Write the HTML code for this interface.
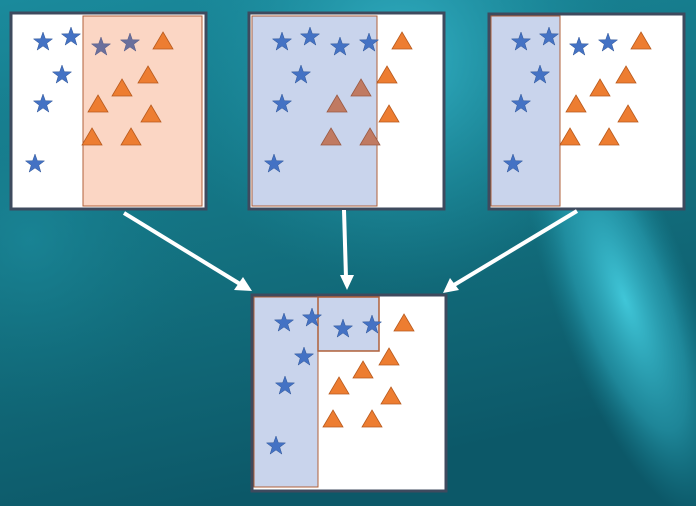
<!DOCTYPE html>
<html><head><meta charset="utf-8"><style>html,body{margin:0;padding:0;width:696px;height:506px;overflow:hidden}</style></head>
<body>
<svg width="696" height="506" viewBox="0 0 696 506" xmlns="http://www.w3.org/2000/svg">
<defs>
<linearGradient id="base" x1="0" y1="0" x2="0.3" y2="1">
<stop offset="0" stop-color="#1a8a9c"/><stop offset="0.55" stop-color="#13707f"/><stop offset="1" stop-color="#0c5868"/></linearGradient>
<radialGradient id="g1" cx="0" cy="0" r="1" gradientUnits="userSpaceOnUse" gradientTransform="translate(625,300) rotate(70) scale(230,70)">
<stop offset="0" stop-color="#40c6d8"/><stop offset="0.6" stop-color="#2aa4b8" stop-opacity="0.6"/><stop offset="1" stop-color="#1a8a9c" stop-opacity="0"/></radialGradient>
<radialGradient id="g2" cx="400" cy="60" r="230" gradientUnits="userSpaceOnUse">
<stop offset="0" stop-color="#34b2c6"/><stop offset="1" stop-color="#1a8a9c" stop-opacity="0"/></radialGradient>
<radialGradient id="g3" cx="30" cy="240" r="180" gradientUnits="userSpaceOnUse">
<stop offset="0" stop-color="#1c8c9e" stop-opacity="0.6"/><stop offset="1" stop-color="#137282" stop-opacity="0"/></radialGradient>
<polygon id="s" points="0,-10 2.35,-3.24 9.51,-3.09 3.8,1.24 5.88,8.09 0,4 -5.88,8.09 -3.8,1.24 -9.51,-3.09 -2.35,-3.24" fill="#4472c4" stroke="#2f5597" stroke-width="0.5"/>
<polygon id="sg" points="0,-10 2.35,-3.24 9.51,-3.09 3.8,1.24 5.88,8.09 0,4 -5.88,8.09 -3.8,1.24 -9.51,-3.09 -2.35,-3.24" fill="#6a6f9c" stroke="#555a85" stroke-width="0.5"/>
<polygon id="t" points="0,-9 10,8 -10,8" fill="#ed7d31" stroke="#b85a1e" stroke-width="0.8"/>
<polygon id="tb" points="0,-9 10,8 -10,8" fill="#c07a62" stroke="#9a5a44" stroke-width="0.8"/>
</defs>
<rect width="696" height="506" fill="url(#base)"/>
<rect width="696" height="506" fill="url(#g3)"/>
<rect width="696" height="506" fill="url(#g2)"/>
<rect width="696" height="506" fill="url(#g1)"/>

<!-- Panel 1 -->
<rect x="11" y="13" width="195" height="196" fill="#fff" stroke="#3e4a5e" stroke-width="3"/>
<rect x="83" y="16" width="119" height="190" fill="#fbd6c4" stroke="#b0603a" stroke-width="1"/>
<use href="#s" x="43" y="42"/><use href="#s" x="71" y="37"/><use href="#s" x="62" y="75"/><use href="#s" x="43" y="104"/><use href="#s" x="35" y="164"/>
<use href="#sg" x="101" y="47"/><use href="#sg" x="130" y="43"/>
<use href="#t" x="163" y="41"/><use href="#t" x="148" y="75"/><use href="#t" x="122" y="88"/><use href="#t" x="98" y="104"/><use href="#t" x="151" y="114"/><use href="#t" x="92" y="137"/><use href="#t" x="131" y="137"/>

<!-- Panel 2 -->
<rect x="249" y="13" width="195" height="196" fill="#fff" stroke="#3e4a5e" stroke-width="3"/>
<rect x="252" y="16" width="125" height="190" fill="#c9d4ec" stroke="#b0603a" stroke-width="1"/>
<use href="#s" x="282" y="42"/><use href="#s" x="310" y="37"/><use href="#s" x="340" y="47"/><use href="#s" x="369" y="43"/><use href="#s" x="301" y="75"/><use href="#s" x="282" y="104"/><use href="#s" x="274" y="164"/>
<use href="#t" x="402" y="41"/><use href="#t" x="387" y="75"/><use href="#tb" x="361" y="88"/><use href="#tb" x="337" y="104"/><use href="#t" x="389" y="114"/><use href="#tb" x="331" y="137"/><use href="#tb" x="370" y="137"/>

<!-- Panel 3 -->
<rect x="489" y="14" width="195" height="195" fill="#fff" stroke="#3e4a5e" stroke-width="3"/>
<rect x="491" y="16" width="69" height="190" fill="#c9d4ec" stroke="#b0603a" stroke-width="1"/>
<use href="#s" x="521" y="42"/><use href="#s" x="549" y="37"/><use href="#s" x="579" y="47"/><use href="#s" x="608" y="43"/><use href="#s" x="540" y="75"/><use href="#s" x="521" y="104"/><use href="#s" x="513" y="164"/>
<use href="#t" x="641" y="41"/><use href="#t" x="626" y="75"/><use href="#t" x="600" y="88"/><use href="#t" x="576" y="104"/><use href="#t" x="628" y="114"/><use href="#t" x="570" y="137"/><use href="#t" x="609" y="137"/>

<!-- Bottom panel -->
<rect x="252" y="295" width="194" height="196" fill="#fff" stroke="#3e4a5e" stroke-width="3"/>
<rect x="254" y="297" width="64" height="190" fill="#c9d4ec" stroke="#b0603a" stroke-width="1"/>
<rect x="318" y="297" width="61" height="54" fill="#c9d4ec" stroke="#b0603a" stroke-width="1.5"/>
<use href="#s" x="284" y="323"/><use href="#s" x="312" y="318"/><use href="#s" x="343" y="329"/><use href="#s" x="372" y="325"/><use href="#s" x="304" y="357"/><use href="#s" x="285" y="386"/><use href="#s" x="276" y="446"/>
<use href="#t" x="404" y="323"/><use href="#t" x="389" y="357"/><use href="#t" x="363" y="370"/><use href="#t" x="339" y="386"/><use href="#t" x="391" y="396"/><use href="#t" x="333" y="419"/><use href="#t" x="372" y="419"/>

<!-- Arrows -->
<g stroke="#fff" stroke-width="4" fill="none">
<line x1="124" y1="213" x2="240" y2="284"/>
<line x1="344" y1="210" x2="346" y2="278"/>
<line x1="577" y1="211" x2="454" y2="285"/>
</g>
<g fill="#fff">
<polygon points="252,291 234,290 243,277"/>
<polygon points="347,290 340,275 354,275"/>
<polygon points="443,293 450,278 459,290"/>
</g>
</svg>
</body></html>
